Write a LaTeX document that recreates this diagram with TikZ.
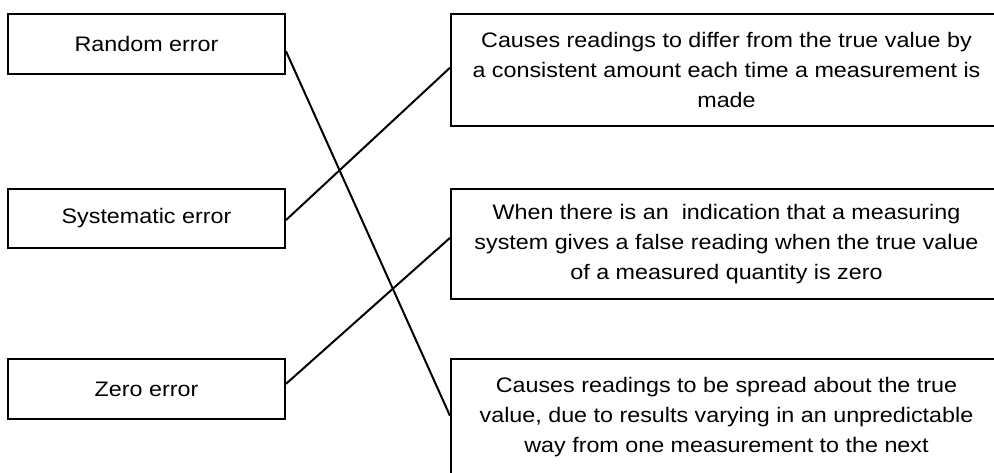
\documentclass[tikz,border=0pt]{standalone}
\usepackage{fontspec}
\setmainfont{Liberation Sans}[FakeStretch=1.11]
\usetikzlibrary{calc}
\begin{document}
\begin{tikzpicture}[x=1pt,y=-1pt,
  box/.style={draw=black,line width=2pt,rectangle,anchor=north west,inner sep=0pt,align=center,
    font=\fontsize{21}{30}\selectfont},
  lbox/.style={box,minimum width=277pt,minimum height=60pt},
  rbox/.style={box,minimum width=551pt},
  link/.style={draw=black,line width=2pt}]
\useasboundingbox (0,0) rectangle (994,472);
\clip (0,0) rectangle (994,472);
\fill[white] (0,0) rectangle (994,472);
\node[lbox] (rand) at (7,13) {Random error};
\node[lbox,minimum height=59pt] (sys) at (7,188) {Systematic error};
\node[lbox] (zero) at (7,358) {Zero error};
\node[rbox,minimum height=112pt] (d1) at (450,13) {Causes readings to differ from the true value by\\a consistent amount each time a measurement is\\made};
\node[rbox,minimum height=110pt] (d2) at (450,188) {When there is an\ \ indication that a measuring\\system gives a false reading when the true value\\of a measured quantity is zero};
\node[rbox,minimum height=116pt] (d3) at (450,358) {Causes readings to be spread about the true\\value, due to results varying in an unpredictable\\way from one measurement to the next};
\draw[link] ($(rand.north east)!0.617!(rand.south east)$) -- ($(d3.north west)!0.49!(d3.south west)$);
\draw[link] ($(sys.north east)!0.525!(sys.south east)$) -- ($(d1.north west)!0.48!(d1.south west)$);
\draw[link] ($(zero.north east)!0.417!(zero.south east)$) -- ($(d2.north west)!0.445!(d2.south west)$);
\end{tikzpicture}
\end{document}
